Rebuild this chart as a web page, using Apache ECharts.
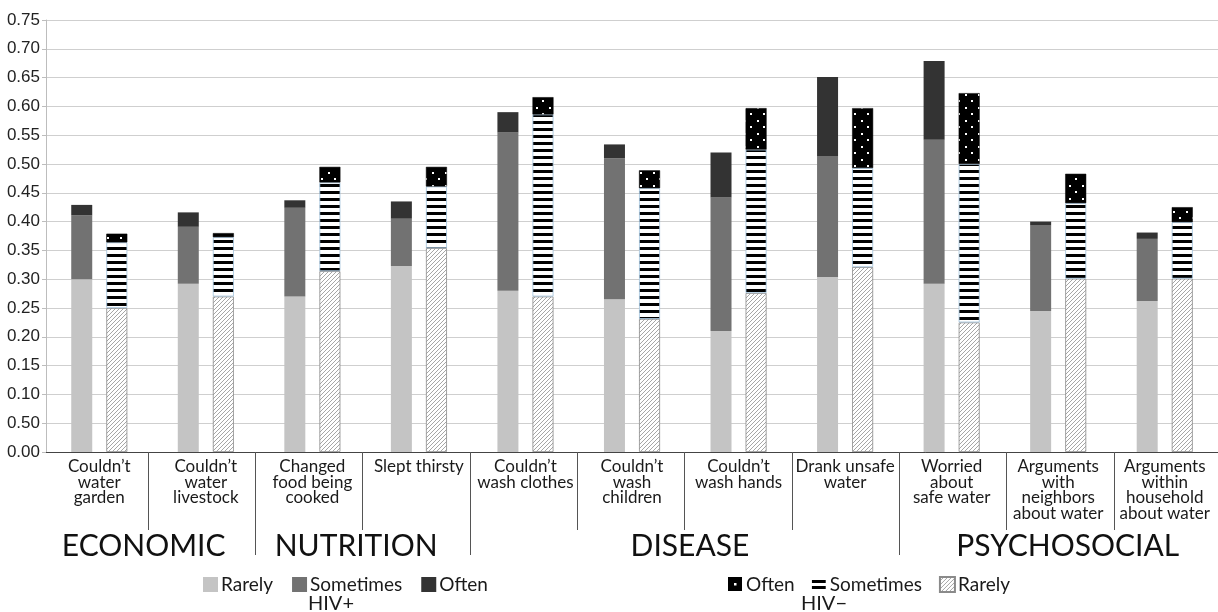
<!DOCTYPE html>
<html>
<head>
<meta charset="utf-8">
<script src="https://cdn.jsdelivr.net/npm/echarts@6/dist/echarts.min.js"></script>
<style>
html,body{margin:0;padding:0;background:#fff;}
#chart{width:1218px;height:612px;}
</style>
</head>
<body>
<div id="chart"></div>
<script>
// ---- Data ----
var categories = [
  'Couldn\u2019t\nwater\ngarden',
  'Couldn\u2019t\nwater\nlivestock',
  'Changed\nfood being\ncooked',
  'Slept thirsty',
  'Couldn\u2019t\nwash clothes',
  'Couldn\u2019t\nwash\nchildren',
  'Couldn\u2019t\nwash hands',
  'Drank unsafe\nwater',
  'Worried\nabout\nsafe water',
  'Arguments\nwith\nneighbors\nabout water',
  'Arguments\nwithin\nhousehold\nabout water'
];
var groupNames = ['ECONOMIC', 'NUTRITION', 'DISEASE', 'PSYCHOSOCIAL'];
var groupCenters = [0.96, 2.94, 6.05, 9.57];
var groupBoundaries = [2, 4, 8];
var itemBoundaries = [1, 3, 5, 6, 7, 9, 10];
var yTickLabels = ['0.00','0.50','0.10','0.15','0.20','0.25','0.30','0.35','0.40','0.45','0.50','0.55','0.60','0.65','0.70','0.75'];

var hivPosRarely    = [0.300,0.292,0.270,0.323,0.280,0.265,0.210,0.304,0.292,0.245,0.262];
var hivPosSometimes = [0.111,0.099,0.154,0.082,0.275,0.245,0.232,0.210,0.250,0.148,0.108];
var hivPosOften     = [0.018,0.025,0.013,0.030,0.035,0.024,0.078,0.137,0.137,0.007,0.011];
var hivNegRarely    = [0.250,0.270,0.314,0.354,0.270,0.231,0.276,0.321,0.225,0.301,0.301];
var hivNegSometimes = [0.114,0.103,0.154,0.107,0.316,0.227,0.249,0.172,0.275,0.131,0.098];
var hivNegOften     = [0.015,0.007,0.027,0.034,0.030,0.031,0.072,0.104,0.123,0.051,0.026];

// ---- Patterns ----
function makeCanvas(w, h, draw) {
  var c = document.createElement('canvas');
  c.width = w; c.height = h;
  draw(c.getContext('2d'));
  return c;
}
var hatchCanvas = makeCanvas(4, 4, function (g) {
  g.fillStyle = '#fff'; g.fillRect(0, 0, 4, 4);
  g.strokeStyle = '#8f8f8f'; g.lineWidth = 0.8;
  g.beginPath();
  g.moveTo(-1, 5); g.lineTo(5, -1);
  g.moveTo(-1, 1); g.lineTo(1, -1);
  g.moveTo(3, 5); g.lineTo(5, 3);
  g.stroke();
});
var stripeCanvas = makeCanvas(4, 7, function (g) {
  g.fillStyle = '#fff'; g.fillRect(0, 0, 4, 7);
  g.fillStyle = '#000'; g.fillRect(0, 2, 4, 3);
});
var dotCanvas = makeCanvas(13, 13, function (g) {
  g.fillStyle = '#000'; g.fillRect(0, 0, 13, 13);
  g.fillStyle = '#fff';
  g.fillRect(3, 3, 2, 2);
  g.fillRect(9, 9, 2, 2);
});
var dotIconCanvas = makeCanvas(14, 14, function (g) {
  g.fillStyle = '#000'; g.fillRect(0, 0, 14, 14);
  g.fillStyle = '#fff';
  g.fillRect(6, 6, 2.5, 2.5);
});
var stripeIconCanvas = makeCanvas(14, 14, function (g) {
  g.fillStyle = '#fff'; g.fillRect(0, 0, 14, 14);
  g.fillStyle = '#000';
  g.fillRect(0, 3, 14, 3);
  g.fillRect(0, 9, 14, 3);
});
var hatch = { image: hatchCanvas, repeat: 'repeat' };
var stripes = { image: stripeCanvas, repeat: 'repeat' };
var dots = { image: dotCanvas, repeat: 'repeat' };

var FONT = 'Lato';
var barW = 21;

function bar(name, stack, data, itemStyle) {
  return {
    name: name, type: 'bar', stack: stack, data: data,
    barWidth: barW, barGap: '67%',
    itemStyle: itemStyle, emphasis: { disabled: true }
  };
}

var legendText = { fontFamily: FONT, fontSize: 19, color: '#1a1a1a', padding: [0, 0, 0, -2] };

var chart = echarts.init(document.getElementById('chart'), null, { renderer: 'canvas' });
chart.setOption({
  animation: false,
  backgroundColor: '#fff',
  grid: { left: 46, right: 0, top: 20, bottom: 160, containLabel: false },
  xAxis: [
    {
      type: 'category', data: categories, position: 'bottom',
      axisLine: { show: true, lineStyle: { color: '#444', width: 1 } },
      axisTick: { show: false },
      axisLabel: {
        interval: 0, margin: 7, fontFamily: FONT, fontSize: 17, color: '#1a1a1a',
        lineHeight: 15.5, verticalAlign: 'top'
      }
    },
    {
      type: 'value', min: 0.05, max: 10.97, position: 'bottom',
      axisLine: { show: false },
      axisTick: { show: true, customValues: itemBoundaries, length: 78, lineStyle: { color: '#555', width: 1 } },
      axisLabel: { show: false },
      splitLine: { show: false }
    },
    {
      type: 'value', min: 0.05, max: 10.97, position: 'bottom',
      axisLine: { show: false },
      axisTick: { show: true, customValues: groupBoundaries, length: 103, lineStyle: { color: '#555', width: 1 } },
      axisLabel: {
        show: true, customValues: groupCenters, margin: 79,
        fontFamily: FONT, fontSize: 30, color: '#111',
        formatter: function (v) {
          var i = groupCenters.indexOf(v);
          return i >= 0 ? groupNames[i] : '';
        }
      },
      splitLine: { show: false }
    }
  ],
  yAxis: {
    type: 'value', min: 0, max: 0.75, interval: 0.05,
    axisLine: { show: true, lineStyle: { color: '#bdbdbd' } },
    axisTick: { show: true, length: 4, lineStyle: { color: '#bdbdbd' } },
    axisLabel: {
      fontFamily: 'Liberation Sans', fontSize: 17, color: '#222', margin: 6,
      formatter: function (v) { return yTickLabels[Math.round(v / 0.05)]; }
    },
    splitLine: { show: true, lineStyle: { color: '#cfcfcf', width: 1 } }
  },
  legend: [
    {
      data: ['HIV+ Rarely', 'HIV+ Sometimes', 'HIV+ Often'],
      left: 203, top: 575, padding: 0, itemWidth: 15, itemHeight: 15, itemGap: 19,
      icon: 'rect',
      textStyle: legendText,
      formatter: function (n) { return n.split(' ')[1]; },
      selectedMode: false
    },
    {
      data: [
        { name: 'HIV\u2212 Often', itemStyle: { color: { image: dotIconCanvas, repeat: 'no-repeat' }, borderWidth: 0 } },
        { name: 'HIV\u2212 Sometimes', itemStyle: { color: { image: stripeIconCanvas, repeat: 'no-repeat' }, borderWidth: 0 } },
        { name: 'HIV\u2212 Rarely' }
      ],
      left: 728, top: 575, padding: 0, itemWidth: 15, itemHeight: 15, itemGap: 17,
      icon: 'rect',
      textStyle: legendText,
      formatter: function (n) { return n.split(' ')[1]; },
      selectedMode: false
    }
  ],
  graphic: [
    { type: 'text', left: 308, top: 594, style: { text: 'HIV+', fontFamily: FONT, fontSize: 20, fill: '#1a1a1a' } },
    { type: 'text', left: 801, top: 594, style: { text: 'HIV\u2212', fontFamily: FONT, fontSize: 20, fill: '#1a1a1a' } }
  ],
  series: [
    bar('HIV+ Rarely', 'pos', hivPosRarely, { color: '#c4c4c4' }),
    bar('HIV+ Sometimes', 'pos', hivPosSometimes, { color: '#727272' }),
    bar('HIV+ Often', 'pos', hivPosOften, { color: '#333333' }),
    bar('HIV\u2212 Rarely', 'neg', hivNegRarely, { color: hatch, borderColor: '#8a8a8a', borderWidth: 0.8 }),
    bar('HIV\u2212 Sometimes', 'neg', hivNegSometimes, { color: stripes, borderColor: '#9fc2dc', borderWidth: 0.8 }),
    bar('HIV\u2212 Often', 'neg', hivNegOften, { color: dots, borderColor: '#000', borderWidth: 0.5 })
  ]
});
</script>
</body>
</html>
